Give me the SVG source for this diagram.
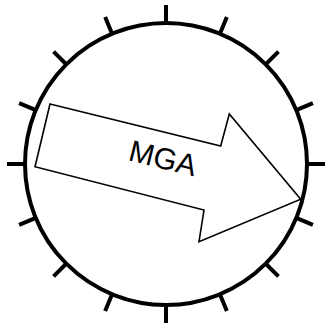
<svg xmlns="http://www.w3.org/2000/svg" width="328" height="329" viewBox="0 0 328 329">
<style>
.tick{stroke:#000;stroke-width:4;stroke-linecap:butt}
.ring{fill:#fff;stroke:#000;stroke-width:4}
.arrow{fill:#fff;stroke:#000;stroke-width:1.6;stroke-linejoin:miter}
.lbl{font-family:"Liberation Sans",Arial,sans-serif;font-size:30px;fill:#000}
</style>
<rect width="328" height="329" fill="#fff"/>
<g id="ticks">
<g transform="translate(166,164)">
<line class="tick" x1="0" y1="-139" x2="0" y2="-159" transform="rotate(0)"/>
<line class="tick" x1="0" y1="-139" x2="0" y2="-159" transform="rotate(22.5)"/>
<line class="tick" x1="0" y1="-139" x2="0" y2="-159" transform="rotate(45)"/>
<line class="tick" x1="0" y1="-139" x2="0" y2="-159" transform="rotate(67.5)"/>
<line class="tick" x1="0" y1="-139" x2="0" y2="-159" transform="rotate(90)"/>
<line class="tick" x1="0" y1="-139" x2="0" y2="-159" transform="rotate(112.5)"/>
<line class="tick" x1="0" y1="-139" x2="0" y2="-159" transform="rotate(135)"/>
<line class="tick" x1="0" y1="-139" x2="0" y2="-159" transform="rotate(157.5)"/>
<line class="tick" x1="0" y1="-139" x2="0" y2="-159" transform="rotate(180)"/>
<line class="tick" x1="0" y1="-139" x2="0" y2="-159" transform="rotate(202.5)"/>
<line class="tick" x1="0" y1="-139" x2="0" y2="-159" transform="rotate(225)"/>
<line class="tick" x1="0" y1="-139" x2="0" y2="-159" transform="rotate(247.5)"/>
<line class="tick" x1="0" y1="-139" x2="0" y2="-159" transform="rotate(270)"/>
<line class="tick" x1="0" y1="-139" x2="0" y2="-159" transform="rotate(292.5)"/>
<line class="tick" x1="0" y1="-139" x2="0" y2="-159" transform="rotate(315)"/>
<line class="tick" x1="0" y1="-139" x2="0" y2="-159" transform="rotate(337.5)"/>
</g>
</g>
<g id="circle">
<circle class="ring" cx="166" cy="164" r="141"/>
</g>
<g id="mga">
<polygon class="arrow" points="50,104 220.7,146 229.3,114 300.7,199.3 199,241.7 204,210 35,166.7"/>
<text class="lbl" x="163" y="158" text-anchor="middle" dominant-baseline="central" transform="rotate(14 163 158)">MGA</text>
</g>
</svg>
